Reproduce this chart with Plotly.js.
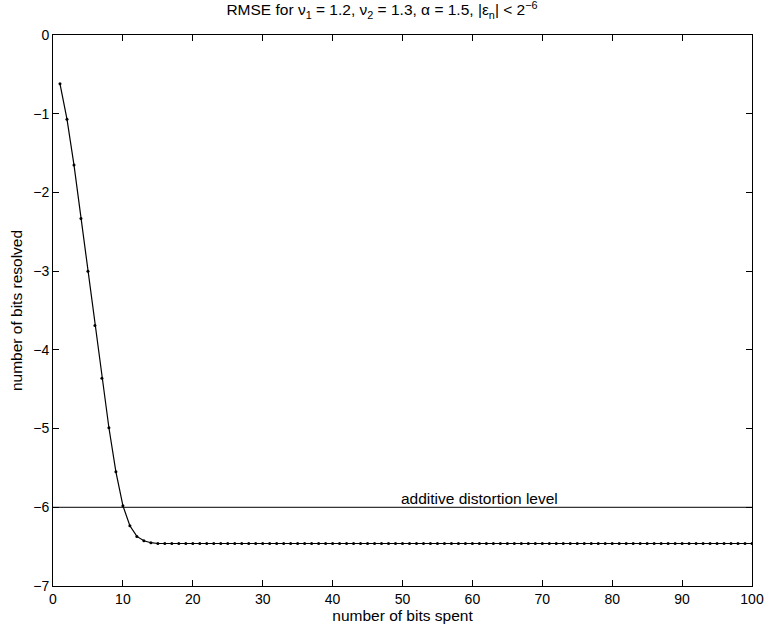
<!DOCTYPE html>
<html>
<head>
<meta charset="utf-8">
<script src="https://cdn.plot.ly/plotly-3.0.1.min.js"></script>
<style>body{margin:0;padding:0;background:#fff;}#chart{width:764px;height:632px;}</style>
</head>
<body>
<div id="chart"></div>
<script>
const bitsSpent = [];
for (let i = 1; i <= 100; i++) bitsSpent.push(i);
const bitsResolvedHead = [-0.62, -1.07, -1.65, -2.33, -3.00, -3.69, -4.36, -4.99, -5.55, -5.98,
  -6.235, -6.37, -6.425, -6.45, -6.46];
const plateauValue = -6.46;
const bitsResolved = bitsSpent.map((x, i) => i < bitsResolvedHead.length ? bitsResolvedHead[i] : plateauValue);
const levelX = [0, 100];
const levelY = [-6, -6];
const levelLabel = "additive distortion level";
const xTicks = [0, 10, 20, 30, 40, 50, 60, 70, 80, 90, 100];
const yTicks = [-7, -6, -5, -4, -3, -2, -1, 0];

const family = "Liberation Sans, Arial, Helvetica, sans-serif";
const tickFont = {family: family, size: 14, color: "#000"};
const labelFont = {family: family, size: 15.5, color: "#000"};

const traces = [
  {x: levelX, y: levelY, mode: "lines", line: {color: "#000", width: 1}, hoverinfo: "skip", showlegend: false},
  {x: bitsSpent, y: bitsResolved, mode: "lines+markers", line: {color: "#000", width: 1.2},
   marker: {color: "#000", size: 3}, showlegend: false}
];

const axisCommon = {
  showline: true, linecolor: "#000", linewidth: 1, mirror: "allticks",
  ticks: "inside", ticklen: 6, tickcolor: "#000", tickwidth: 1,
  showgrid: false, zeroline: false, tickfont: tickFont
};

const layout = {
  width: 764, height: 632,
  margin: {l: 53, r: 12, t: 35, b: 46},
  paper_bgcolor: "#fff", plot_bgcolor: "#fff",
  font: labelFont,
  title: {text: "RMSE for ν<sub>1</sub> = 1.2, ν<sub>2</sub> = 1.3, α = 1.5, |ε<sub>n</sub>| < 2<sup>−6</sup>",
          font: labelFont, x: 0.5, xanchor: "center", y: 0.993, yanchor: "top"},
  xaxis: Object.assign({}, axisCommon, {range: [0, 100], tickvals: xTicks,
    title: {text: "number of bits spent", font: labelFont, standoff: 2}}),
  yaxis: Object.assign({}, axisCommon, {range: [-7, 0], tickvals: yTicks,
    title: {text: "number of bits resolved", font: labelFont, standoff: 6}}),
  annotations: [{x: 61, y: -6, xref: "x", yref: "y", text: levelLabel, showarrow: false,
    yanchor: "bottom", xanchor: "center", font: labelFont, yshift: -2}]
};

Plotly.newPlot("chart", traces, layout, {displayModeBar: false, staticPlot: true});
</script>
</body>
</html>
